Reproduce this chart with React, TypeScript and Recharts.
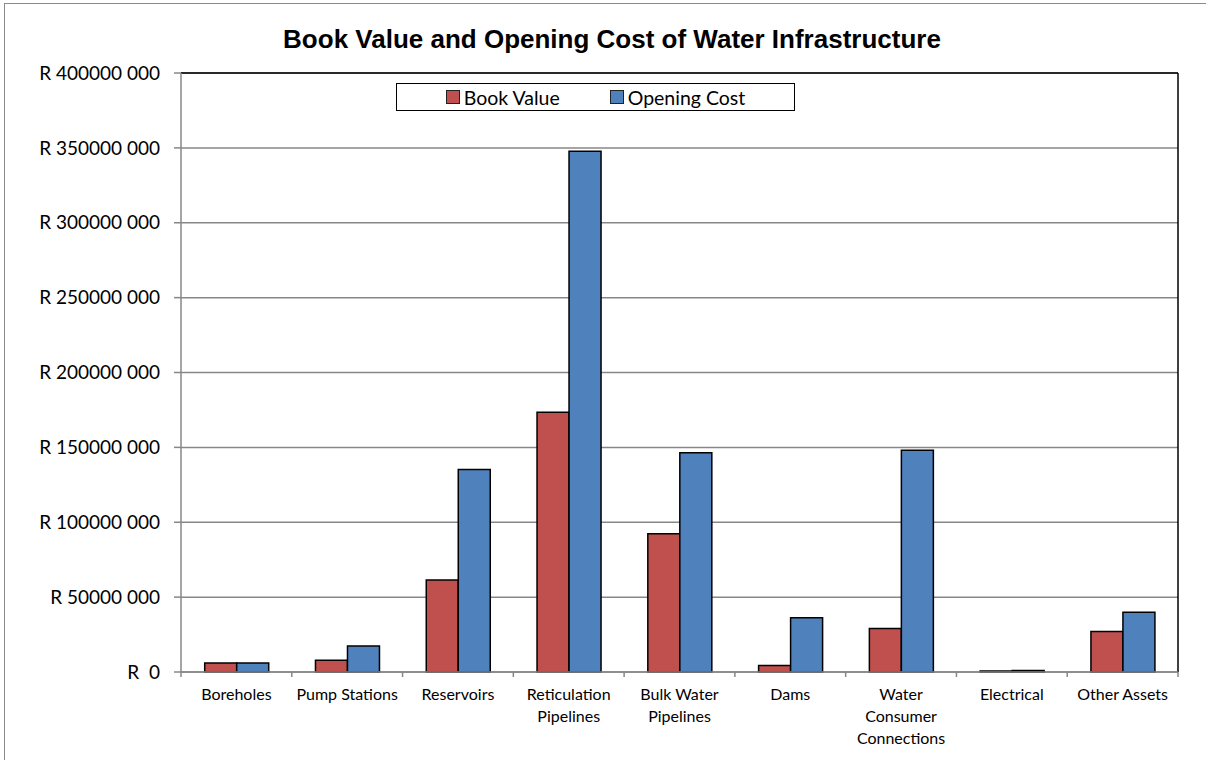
import React from 'react';
import { BarChart, Bar, XAxis, YAxis, CartesianGrid, Legend, ReferenceLine } from 'recharts';

// Asset categories (line breaks mark how the axis label wraps)
const categories = [
  'Boreholes',
  'Pump Stations',
  'Reservoirs',
  'Reticulation\nPipelines',
  'Bulk Water\nPipelines',
  'Dams',
  'Water\nConsumer\nConnections',
  'Electrical',
  'Other Assets',
];

// Rand values per category
const bookValue = [6.0e6, 7.8e6, 61.4e6, 173.4e6, 92.4e6, 4.3e6, 29.0e6, 0.6e6, 27.0e6];
const openingCost = [6.0e6, 17.4e6, 135.3e6, 347.8e6, 146.4e6, 36.3e6, 148.0e6, 1.0e6, 39.9e6];

// Value axis ticks
const yTicks = [0, 50e6, 100e6, 150e6, 200e6, 250e6, 300e6, 350e6, 400e6];

const seriesNames = { book: 'Book Value', cost: 'Opening Cost' };
const colors = { book: '#C0504D', cost: '#4F81BD' };

const data = categories.map((name, i) => ({
  name,
  book: bookValue[i],
  cost: openingCost[i],
}));

const LABEL_FONT = 'Lato, "Open Sans", sans-serif';
const GRID = '#878787';

const formatRand = (v: number) =>
  v === 0 ? 'R \u00a00' : `R ${Math.round(v / 1000)} 000`;

// Category label plus the small tick marks at the band boundaries
const CategoryTick = (props: any) => {
  const { x, y, payload, index } = props;
  const half = payload && typeof payload.offset === 'number' ? payload.offset : 0;
  const lines = String(payload.value).split('\n');
  const isLast = index === categories.length - 1;
  return (
    <g>
      <line x1={x - half} x2={x - half} y1={y} y2={y + 5} stroke={GRID} strokeWidth={1.5} />
      {isLast && (
        <line x1={x + half} x2={x + half} y1={y} y2={y + 5} stroke={GRID} strokeWidth={1.5} />
      )}
      <text x={x} y={y} textAnchor="middle" fontFamily={LABEL_FONT} fontSize={16} fill="#000">
        {lines.map((l, i) => (
          <tspan key={i} x={x} dy={i === 0 ? 28 : 22}>
            {l}
          </tspan>
        ))}
      </text>
    </g>
  );
};

const LegendBox = (props: any) => {
  const items = props.payload || [];
  return (
    <div
      style={{
        boxSizing: 'border-box',
        width: 399,
        height: 28,
        border: '1.5px solid #000',
        background: '#fff',
        display: 'flex',
        alignItems: 'center',
        justifyContent: 'center',
        gap: 50,
        fontFamily: LABEL_FONT,
        fontSize: 19.5,
        color: '#000',
      }}
    >
      {items.map((it: any) => (
        <div key={it.value} style={{ display: 'flex', alignItems: 'center' }}>
          <span
            style={{
              display: 'inline-block',
              boxSizing: 'border-box',
              width: 14,
              height: 14,
              background: it.color,
              border: '1.5px solid #222',
              marginRight: 4,
            }}
          />
          <span>{it.value}</span>
        </div>
      ))}
    </div>
  );
};

export default function App() {
  return (
    <div
      style={{
        position: 'fixed',
        left: 0,
        top: 0,
        width: 1206,
        height: 760,
        overflow: 'hidden',
        background: '#fff',
      }}
    >
      <div
        style={{
          position: 'absolute',
          left: 4,
          top: 3,
          width: 1400,
          height: 1000,
          border: '1px solid #8a8a8a',
        }}
      />
      <div
        style={{
          position: 'absolute',
          left: 0,
          width: 1224,
          top: 24,
          textAlign: 'center',
          fontFamily: '"Liberation Sans", Arial, sans-serif',
          fontWeight: 'bold',
          fontSize: 26,
          lineHeight: '30px',
          color: '#000',
        }}
      >
        Book Value and Opening Cost of Water Infrastructure
      </div>
      <div style={{ position: 'absolute', left: 0, top: 0 }}>
        <BarChart
          width={1206}
          height={760}
          data={data}
          margin={{ top: 73, right: 28, left: 0, bottom: 0 }}
          barCategoryGap="21.4%"
          barGap={0}
        >
          <CartesianGrid vertical={false} stroke={GRID} strokeWidth={1.5} />
          <XAxis
            dataKey="name"
            height={88}
            interval={0}
            tickSize={0}
            tickMargin={0}
            axisLine={{ stroke: GRID, strokeWidth: 1.5 }}
            tickLine={false}
            tick={<CategoryTick />}
          />
          <YAxis
            width={181}
            domain={[0, 400e6]}
            ticks={yTicks}
            interval={0}
            tickFormatter={formatRand}
            tickSize={7}
            tickMargin={14}
            tick={{ fontFamily: LABEL_FONT, fontSize: 19, fill: '#000' }}
            tickLine={{ stroke: GRID, strokeWidth: 1.5 }}
            axisLine={{ stroke: GRID, strokeWidth: 1.5 }}
          />
          <Legend
            layout="horizontal"
            verticalAlign="middle"
            align="center"
            content={<LegendBox />}
            wrapperStyle={{ left: 396, top: 83, width: 399, height: 28 }}
          />
          <Bar
            dataKey="book"
            name={seriesNames.book}
            fill={colors.book}
            stroke="#000"
            strokeWidth={1.5}
            isAnimationActive={false}
          />
          <Bar
            dataKey="cost"
            name={seriesNames.cost}
            fill={colors.cost}
            stroke="#000"
            strokeWidth={1.5}
            isAnimationActive={false}
          />
          {/* plot area frame: top and right edges */}
          <ReferenceLine y={400e6} stroke="#000" strokeWidth={1.5} />
          <ReferenceLine
            x={categories[categories.length - 1]}
            position="end"
            stroke="#000"
            strokeWidth={1.5}
          />
        </BarChart>
      </div>
    </div>
  );
}
